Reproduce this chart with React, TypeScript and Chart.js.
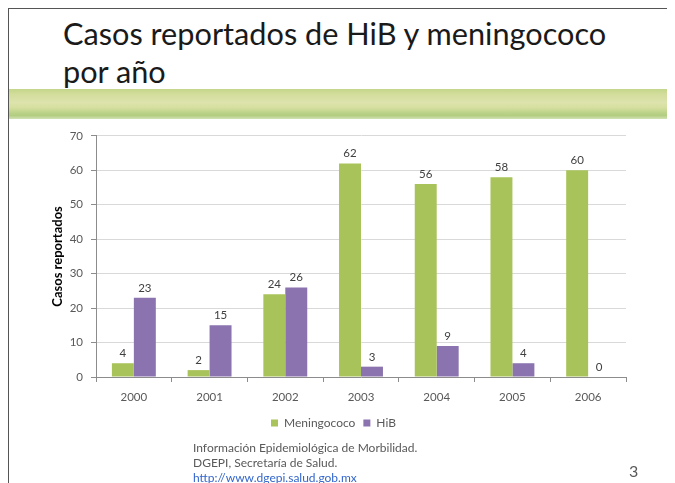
import React, { useEffect, useRef } from "react";
import { Chart, registerables } from "chart.js";

Chart.register(...registerables);

const years = ["2000", "2001", "2002", "2003", "2004", "2005", "2006"];
const meningococo = [4, 2, 24, 62, 56, 58, 60];
const hib = [23, 15, 26, 3, 9, 4, 0];
const seriesNames = ["Meningococo", "HiB"];
const yAxisTitle = "Casos reportados";
const titleLines = ["Casos reportados de HiB y meningococo", "por año"];
const sourceLines = ["Información Epidemiológica de Morbilidad.", "DGEPI, Secretaría de Salud."];
const sourceLink = "http://www.dgepi.salud.gob.mx";
const pageNumber = "3";

const GREEN = "#A9C35B";
const PURPLE = "#8A73AE";
const FONT = "Lato, 'Open Sans', sans-serif";

const dataLabels = {
  id: "dataLabels",
  afterDatasetsDraw(chart: any) {
    const ctx = chart.ctx;
    ctx.save();
    ctx.font = `11.5px ${FONT}`;
    ctx.fillStyle = "#404040";
    ctx.textAlign = "center";
    ctx.textBaseline = "bottom";
    chart.data.datasets.forEach((ds: any, i: number) => {
      const meta = chart.getDatasetMeta(i);
      meta.data.forEach((el: any, j: number) => {
        ctx.fillText(String(ds.data[j]), el.x, el.y - 4);
      });
    });
    ctx.restore();
  },
};

function BarChart() {
  const ref = useRef<HTMLCanvasElement>(null);
  useEffect(() => {
    const chart = new Chart(ref.current!, {
      type: "bar",
      data: {
        labels: years,
        datasets: [
          { label: seriesNames[0], data: meningococo, backgroundColor: GREEN },
          { label: seriesNames[1], data: hib, backgroundColor: PURPLE },
        ],
      },
      options: {
        responsive: false,
        animation: false,
        layout: { padding: { top: 14, right: 15, bottom: 6, left: 0 } },
        datasets: { bar: { categoryPercentage: 0.58, barPercentage: 1 } },
        plugins: {
          tooltip: { enabled: false },
          legend: {
            position: "bottom",
            labels: {
              boxWidth: 7,
              boxHeight: 7,
              padding: 8,
              color: "#595959",
              font: { family: FONT, size: 12 },
            },
          },
        },
        scales: {
          x: {
            afterFit: (s: any) => {
              s.height = 32;
            },
            grid: {
              display: true,
              drawOnChartArea: false,
              drawTicks: true,
              tickLength: 5,
              color: "#8c8c8c",
              offset: true,
            },
            border: { color: "#8c8c8c" },
            ticks: { color: "#595959", padding: 8, font: { family: FONT, size: 11.5 } },
          },
          y: {
            min: 0,
            max: 70,
            afterFit: (s: any) => {
              s.width = 55;
            },
            grid: { color: "#d9d9d9", tickLength: 5, tickColor: "#8c8c8c" },
            border: { color: "#8c8c8c" },
            ticks: { stepSize: 10, color: "#595959", padding: 8, font: { family: FONT, size: 11.5 } },
            title: {
              display: true,
              text: yAxisTitle,
              color: "#000000",
              padding: { top: 9, bottom: 0 },
              font: { family: FONT, size: 13, weight: "bold" },
            },
          },
        },
      },
      plugins: [dataLabels],
    });
    return () => chart.destroy();
  }, []);
  return (
    <canvas
      ref={ref}
      width={600}
      height={324}
      style={{ position: "absolute", left: 32, top: 112, width: 600, height: 324 }}
    />
  );
}

export default function App() {
  return (
    <div
      style={{
        position: "relative",
        width: 667,
        height: 475,
        borderTop: "1px solid #555",
        borderLeft: "1px solid #555",
        boxSizing: "border-box",
        overflow: "hidden",
        background: "#fff",
        fontFamily: FONT,
      }}
    >
      <div
        style={{
          position: "absolute",
          left: 54,
          top: 6,
          fontSize: 30.7,
          lineHeight: "38px",
          color: "#1a1a1a",
          whiteSpace: "nowrap",
        }}
      >
        {titleLines.map((t, i) => (
          <div key={i}>{t}</div>
        ))}
      </div>
      <div
        style={{
          position: "absolute",
          left: 0,
          top: 80,
          width: 667,
          height: 30,
          background:
            "linear-gradient(to bottom, #c3d68a 0%, #d3dd9c 18%, #dde3ad 45%, #d6df9f 62%, #bdd48a 78%, #b2cd80 88%, #d2e2b4 100%)",
        }}
      />
      <BarChart />
      <div
        style={{
          position: "absolute",
          left: 184,
          top: 431,
          fontSize: 12,
          lineHeight: "15px",
          color: "#595959",
          whiteSpace: "nowrap",
        }}
      >
        {sourceLines.map((t, i) => (
          <div key={i}>{t}</div>
        ))}
        <div style={{ color: "#3366cc", textDecoration: "underline" }}>{sourceLink}</div>
      </div>
      <div
        style={{
          position: "absolute",
          left: 620,
          top: 452,
          fontSize: 16,
          color: "#595959",
        }}
      >
        {pageNumber}
      </div>
    </div>
  );
}
